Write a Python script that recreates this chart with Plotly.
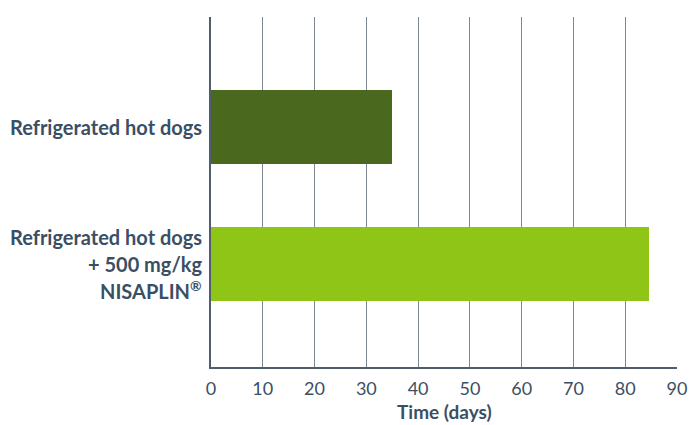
import plotly.graph_objects as go

categories = ["Refrigerated hot dogs", "Refrigerated hot dogs\n+ 500 mg/kg\nNISAPLIN<sup>®</sup>"]
values = [35, 84.5]
colors = ["#4A691E", "#8EC516"]
x_ticks = [0, 10, 20, 30, 40, 50, 60, 70, 80, 90]
x_title = "Time (days)"

TEXT = "#3B4F64"
FONT = "Lato"

cat_ids = [c.replace("\n", " ").replace("<sup>", "").replace("</sup>", "") for c in categories]

fig = go.Figure()
fig.add_trace(go.Bar(
    y=cat_ids, x=values, orientation="h",
    marker=dict(color=colors, line=dict(width=0)),
    width=0.537, hoverinfo="x+y",
))

annotations = []
line_gap = 26.5
for cid, label in zip(cat_ids, categories):
    lines = label.split("\n")
    n = len(lines)
    for i, ln in enumerate(lines):
        annotations.append(dict(
            x=0, xref="paper", y=cid, yref="y",
            text=f"<b>{ln}</b>", showarrow=False,
            xanchor="right", yanchor="middle",
            xshift=-7, yshift=((n - 1) / 2 - i) * line_gap,
            font=dict(family=FONT, size=20, color=TEXT),
        ))

annotations.append(dict(
    x=0.5, xref="paper", y=0, yref="paper",
    text=f"<b>{x_title}</b>", showarrow=False,
    xanchor="center", yanchor="top", yshift=-31,
    font=dict(family=FONT, size=19, color=TEXT),
))

fig.update_layout(
    width=692, height=425,
    margin=dict(l=211, r=15, t=17, b=58, autoexpand=False),
    paper_bgcolor="white", plot_bgcolor="white",
    showlegend=False,
    bargap=0,
    annotations=annotations,
    xaxis=dict(
        range=[0, 90], tickvals=x_ticks, ticktext=[str(v) for v in x_ticks],
        showgrid=True, gridcolor="#7D8894", gridwidth=1.3,
        zeroline=False, showline=True, linecolor="#4E5E6E", linewidth=1.5,
        ticks="", tickfont=dict(family=FONT, size=18, color=TEXT),
        ticklabelstandoff=5, automargin=False,
    ),
    yaxis=dict(
        type="category", categoryorder="array", categoryarray=cat_ids,
        range=[1.752, -0.803], showticklabels=False, ticks="", automargin=False,
        showgrid=False, zeroline=False, showline=True, linecolor="#4E5E6E", linewidth=1.5,
    ),
)

fig.write_html("out.html")
